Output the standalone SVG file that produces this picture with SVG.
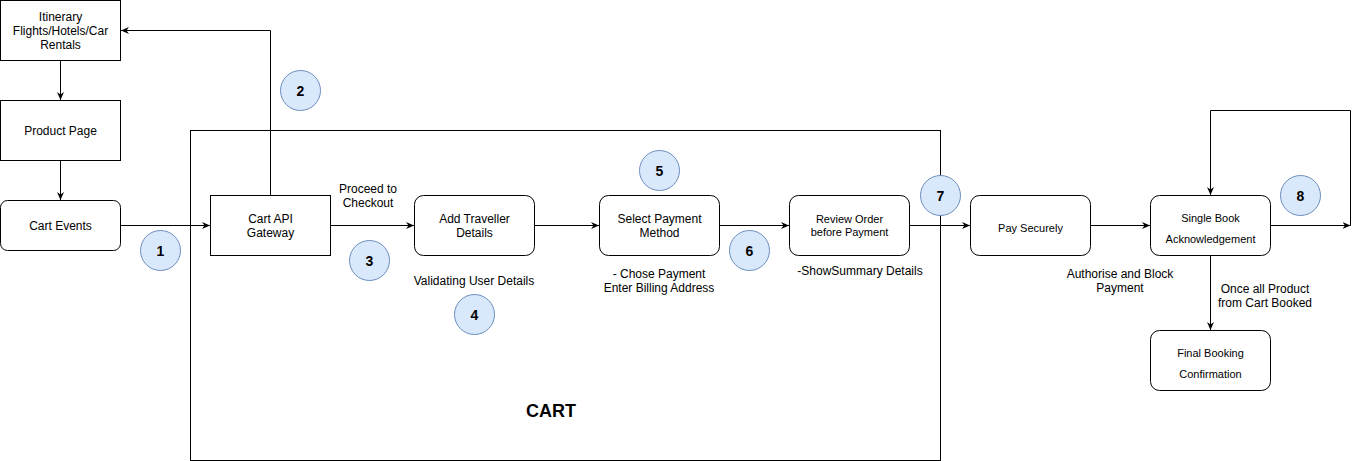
<svg xmlns="http://www.w3.org/2000/svg" width="1359" height="461" viewBox="0 0 1359 461">
<defs>
<marker id="arr" markerUnits="userSpaceOnUse" markerWidth="10" markerHeight="10" refX="8" refY="4" orient="auto">
<path d="M0,0.5 L8,4 L0,7.5 L2.5,4 Z" fill="#000"/>
</marker>
</defs>
<style>
.box{fill:#fff;stroke:#000;stroke-width:1}
.t{font-family:"Liberation Sans",Arial,sans-serif;font-size:12px;fill:#000;text-anchor:middle}
.s{font-size:11px}
.c{fill:#dae8fc;stroke:#6c8ebf;stroke-width:1}
.n{font-family:"Liberation Sans",Arial,sans-serif;font-size:14px;font-weight:bold;fill:#000;text-anchor:middle}
.e{fill:none;stroke:#000;stroke-width:1;marker-end:url(#arr)}
.l{fill:none;stroke:#000;stroke-width:1}
</style>
<rect x="190.5" y="130.5" width="750" height="330" fill="none" stroke="#000"/>
<text class="t" x="551" y="417" style="font-size:18px;font-weight:bold">CART</text>
<g id="connectors">
<path class="e" d="M60.5,60.5 L60.5,100"/>
<path class="e" d="M60.5,160.5 L60.5,200"/>
<path class="e" d="M120.5,225.5 L210,225.5"/>
<path class="e" d="M270.5,195.5 L270.5,30.5 L121,30.5"/>
<path class="e" d="M330.5,225.5 L414,225.5"/>
<path class="e" d="M534.5,225.5 L599,225.5"/>
<path class="e" d="M719.5,225.5 L789,225.5"/>
<path class="e" d="M909.5,225.5 L970,225.5"/>
<path class="e" d="M1090.5,225.5 L1150,225.5"/>
<path class="e" d="M1270.5,225.5 L1350.5,225.5"/>
<path class="e" d="M1350.5,225.5 L1350.5,110.5 L1210.5,110.5 L1210.5,195"/>
<path class="e" d="M1210.5,255.5 L1210.5,330"/>
</g>
<g id="itinerary"><rect class="box" x="0.5" y="0.5" width="120" height="60"/>
<text class="t" x="60.5" y="21">Itinerary</text><text class="t" x="60.5" y="35">Flights/Hotels/Car</text><text class="t" x="60.5" y="49">Rentals</text></g>
<g id="product"><rect class="box" x="0.5" y="100.5" width="120" height="60"/>
<text class="t" x="60.5" y="135">Product Page</text></g>
<g id="cartevents"><rect class="box" x="0.5" y="200.5" width="120" height="50" rx="7"/>
<text class="t" x="60.5" y="230">Cart Events</text></g>
<g id="gateway"><rect class="box" x="210.5" y="195.5" width="120" height="60"/>
<text class="t" x="270.5" y="223">Cart API</text><text class="t" x="270.5" y="237">Gateway</text></g>
<g id="traveller"><rect class="box" x="414.5" y="195.5" width="120" height="60" rx="9"/>
<text class="t" x="474.5" y="223">Add Traveller</text><text class="t" x="474.5" y="237">Details</text></g>
<g id="payment"><rect class="box" x="599.5" y="195.5" width="120" height="60" rx="9"/>
<text class="t" x="659.5" y="223">Select Payment</text><text class="t" x="659.5" y="237">Method</text></g>
<g id="review"><rect class="box" x="789.5" y="195.5" width="120" height="60" rx="9"/>
<text class="t s" x="849.5" y="223">Review Order</text><text class="t s" x="849.5" y="236">before Payment</text></g>
<g id="pay"><rect class="box" x="970.5" y="195.5" width="120" height="60" rx="9"/>
<text class="t s" x="1030.5" y="232">Pay Securely</text></g>
<g id="single"><rect class="box" x="1150.5" y="195.5" width="120" height="60" rx="9"/>
<text class="t s" x="1210.5" y="222">Single Book</text><text class="t s" x="1210.5" y="243">Acknowledgement</text></g>
<g id="final"><rect class="box" x="1150.5" y="330.5" width="120" height="60" rx="9"/>
<text class="t s" x="1210.5" y="357">Final Booking</text><text class="t s" x="1210.5" y="378">Confirmation</text></g>
<g id="labels">
<text class="t" x="368" y="193">Proceed to</text><text class="t" x="368" y="207">Checkout</text>
<text class="t" x="474" y="285">Validating User Details</text>
<text class="t" x="659" y="277.5">- Chose Payment</text><text class="t" x="659" y="291.5">Enter Billing Address</text>
<text class="t" x="860" y="275">-ShowSummary Details</text>
<text class="t" x="1120" y="277.5">Authorise and Block</text><text class="t" x="1120" y="291.5">Payment</text>
<text class="t" x="1265" y="293">Once all Product</text><text class="t" x="1265" y="306.5">from Cart Booked</text>
</g>
<g id="step1"><circle class="c" cx="160.5" cy="250.5" r="20"/><text class="n" x="160.5" y="255.5">1</text></g>
<g id="step2"><circle class="c" cx="300.5" cy="90.5" r="20"/><text class="n" x="300.5" y="95.5">2</text></g>
<g id="step3"><circle class="c" cx="369.5" cy="260.5" r="20"/><text class="n" x="369.5" y="265.5">3</text></g>
<g id="step4"><circle class="c" cx="474.5" cy="314.5" r="20"/><text class="n" x="474.5" y="319.5">4</text></g>
<g id="step5"><circle class="c" cx="659.5" cy="170.5" r="20"/><text class="n" x="659.5" y="175.5">5</text></g>
<g id="step6"><circle class="c" cx="749.5" cy="250.5" r="20"/><text class="n" x="749.5" y="255.5">6</text></g>
<g id="step7"><circle class="c" cx="940.5" cy="195.5" r="20"/><text class="n" x="940.5" y="200.5">7</text></g>
<g id="step8"><circle class="c" cx="1300.5" cy="195.5" r="20"/><text class="n" x="1300.5" y="200.5">8</text></g>
</svg>
